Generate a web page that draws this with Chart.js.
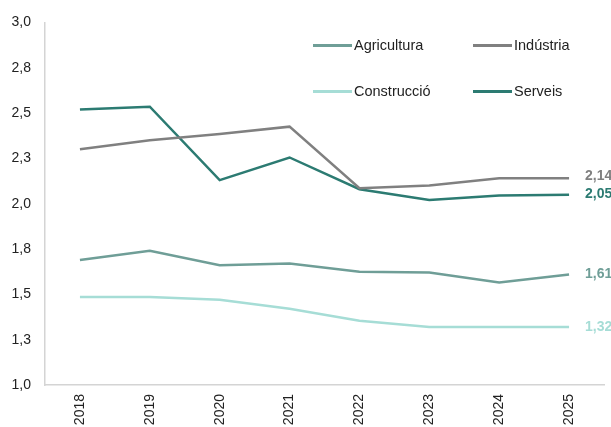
<!DOCTYPE html>
<html>
<head>
<meta charset="utf-8">
<style>
  html, body { margin: 0; padding: 0; background: #fff; }
  #wrap { position: relative; width: 611px; height: 427px; }
  #legend { position: absolute; left: 313px; top: 36px; font: 14.5px "Liberation Sans", Arial, sans-serif; color: #222; }
  .item { position: absolute; display: flex; align-items: center; white-space: nowrap; height: 18px; }
  .swatch { width: 39px; height: 3px; margin-right: 2px; }
</style>
</head>
<body>
<div id="wrap">
  <canvas id="chart" width="611" height="427"></canvas>
  <div id="legend"></div>
</div>

<script src="https://cdn.jsdelivr.net/npm/chart.js"></script>
<script>
  // data
  const years = ['2018', '2019', '2020', '2021', '2022', '2023', '2024', '2025'];
  const agricultura = [1.69, 1.74, 1.66, 1.67, 1.625, 1.62, 1.565, 1.61];
  const industria = [2.30, 2.35, 2.385, 2.425, 2.085, 2.10, 2.14, 2.14];
  const construccio = [1.485, 1.485, 1.47, 1.42, 1.355, 1.32, 1.32, 1.32];
  const serveis = [2.52, 2.535, 2.13, 2.255, 2.08, 2.02, 2.045, 2.05];
  const yTicks = [1.0, 1.25, 1.5, 1.75, 2.0, 2.25, 2.5, 2.75, 3.0];

  const series = [
    { label: 'Agricultura', data: agricultura, color: '#6f9e97', endLabel: '1,61' },
    { label: 'Indústria', data: industria, color: '#808080', endLabel: '2,14' },
    { label: 'Construcció', data: construccio, color: '#a6ddd6', endLabel: '1,32' },
    { label: 'Serveis', data: serveis, color: '#2c7b72', endLabel: '2,05' }
  ];

  const FONT = '"Liberation Sans", Arial, sans-serif';
  const comma = v => v.toFixed(1).replace('.', ',');

  // legend, 2x2
  const legend = document.getElementById('legend');
  series.forEach((s, i) => {
    const div = document.createElement('div');
    div.className = 'item';
    div.style.left = (i % 2) * 160 + 'px';
    div.style.top = Math.floor(i / 2) * 46 + 'px';
    div.innerHTML = `<span class="swatch" style="background:${s.color}"></span>${s.label}`;
    legend.appendChild(div);
  });

  // value labels at the end of each line
  const endLabels = {
    id: 'endLabels',
    afterDatasetsDraw(chart) {
      const ctx = chart.ctx;
      ctx.save();
      ctx.font = 'bold 14px ' + FONT;
      ctx.textBaseline = 'middle';
      ctx.textAlign = 'left';
      chart.data.datasets.forEach((ds, i) => {
        const meta = chart.getDatasetMeta(i);
        const pt = meta.data[meta.data.length - 1];
        ctx.fillStyle = ds.borderColor;
        let y = pt.y;
        if (ds.label === 'Indústria') y -= 2;
        ctx.fillText(series[i].endLabel, pt.x + 16, y);
      });
      ctx.restore();
    }
  };

  new Chart(document.getElementById('chart'), {
    type: 'line',
    data: {
      labels: years,
      datasets: series.map(s => ({
        label: s.label,
        data: s.data,
        borderColor: s.color,
        backgroundColor: s.color,
        borderWidth: 2.5,
        pointRadius: 0,
        tension: 0
      }))
    },
    options: {
      responsive: false,
      animation: false,
      layout: { padding: { top: 13, right: 7, left: 0, bottom: 0 } },
      scales: {
        x: {
          offset: true,
          grid: { display: false, drawTicks: false },
          border: { color: '#d4d4d4', width: 1.5 },
          ticks: {
            color: '#222',
            font: { family: FONT, size: 14 },
            minRotation: 90,
            maxRotation: 90,
            padding: 9
          },
          afterFit: s => { s.height = 42; }
        },
        y: {
          min: 1, max: 3,
          afterBuildTicks: s => { s.ticks = yTicks.map(v => ({ value: v })); },
          grid: { display: false, drawTicks: false },
          border: { color: '#d4d4d4', width: 1.5 },
          ticks: {
            color: '#222',
            font: { family: FONT, size: 14 },
            padding: 14,
            callback: v => comma(v)
          },
          afterFit: s => { s.width = 45; }
        }
      },
      plugins: {
        legend: { display: false },
        tooltip: { enabled: false }
      }
    },
    plugins: [endLabels]
  });
</script>
</body>
</html>
